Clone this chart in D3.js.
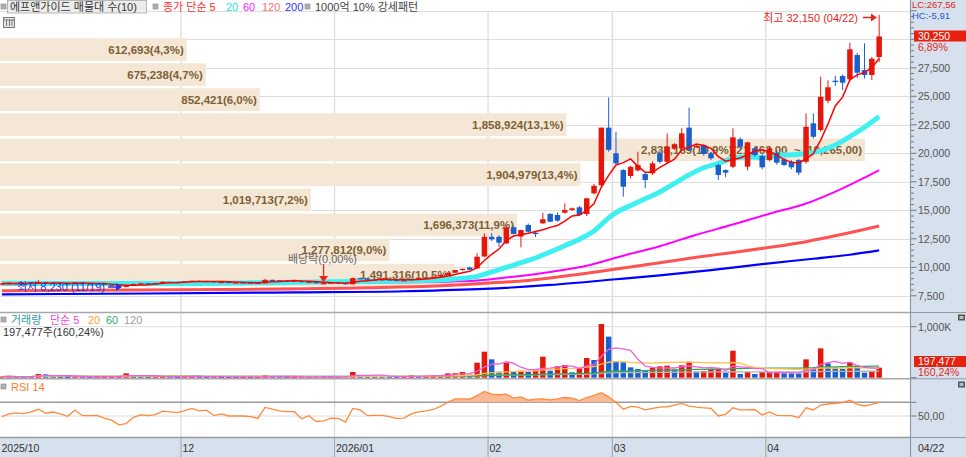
<!DOCTYPE html>
<html><head><meta charset="utf-8">
<script src="https://cdn.jsdelivr.net/npm/d3@7"></script>
<style>
body{margin:0;background:#fff;}
svg{display:block;font-family:"Liberation Sans","Noto Sans CJK KR",sans-serif;}
</style>
</head><body>
<svg id="c" width="966" height="457"></svg>
<script>
// ---------------- DATA ----------------
const dates = [
"2025-10-27","2025-10-28","2025-10-29","2025-10-30","2025-10-31",
"2025-11-03","2025-11-04","2025-11-05","2025-11-06","2025-11-07",
"2025-11-10","2025-11-11","2025-11-12","2025-11-13","2025-11-14",
"2025-11-17","2025-11-18","2025-11-19","2025-11-20","2025-11-21",
"2025-11-24","2025-11-25","2025-11-26","2025-11-27","2025-11-28",
"2025-12-01","2025-12-02","2025-12-03","2025-12-04","2025-12-05",
"2025-12-08","2025-12-09","2025-12-10","2025-12-11","2025-12-12",
"2025-12-15","2025-12-16","2025-12-17","2025-12-18","2025-12-19",
"2025-12-22","2025-12-23","2025-12-24","2025-12-26","2025-12-29","2025-12-30",
"2026-01-02","2026-01-05","2026-01-06","2026-01-07","2026-01-08","2026-01-09",
"2026-01-12","2026-01-13","2026-01-14","2026-01-15","2026-01-16",
"2026-01-19","2026-01-20","2026-01-21","2026-01-22","2026-01-23",
"2026-01-26","2026-01-27","2026-01-28","2026-01-29","2026-01-30",
"2026-02-02","2026-02-03","2026-02-04","2026-02-05","2026-02-06",
"2026-02-09","2026-02-10","2026-02-11","2026-02-12","2026-02-13",
"2026-02-19","2026-02-20",
"2026-02-23","2026-02-24","2026-02-25","2026-02-26","2026-02-27",
"2026-03-03","2026-03-04","2026-03-05","2026-03-06",
"2026-03-09","2026-03-10","2026-03-11","2026-03-12","2026-03-13",
"2026-03-16","2026-03-17","2026-03-18","2026-03-19","2026-03-20",
"2026-03-23","2026-03-24","2026-03-25","2026-03-26","2026-03-27",
"2026-03-30","2026-03-31",
"2026-04-01","2026-04-02","2026-04-03",
"2026-04-06","2026-04-07","2026-04-08","2026-04-09","2026-04-10",
"2026-04-13","2026-04-14","2026-04-15","2026-04-16","2026-04-17",
"2026-04-20","2026-04-21","2026-04-22"];

const opens = [8550,8580,8600,8560,8540,8640,8700,8600,8640,8580,
8520,8680,8580,8590,8570,8480,8400,8300,8380,8540,
8600,8580,8610,8720,8700,8680,8760,8820,8760,8790,
8680,8720,8670,8670,8660,8640,8590,8900,8860,8830,
8810,8820,8700,8740,8600,8610,8660,8640,8510,9050,
9000,8920,8930,8940,8900,8860,8870,8980,9050,9100,
9180,9320,9520,9760,9990,9900,10950,12680,12680,12100,
13510,12700,13710,13040,13860,14680,14590,14790,15030,15260,
14680,16490,17200,22250,20000,18530,18010,18500,18180,18250,
20000,19260,20400,20440,22250,20580,20730,20000,18970,18530,
18820,21230,18830,20440,19760,19410,20050,19470,19260,19410,
19260,22630,22040,24610,26370,26780,26490,28620,27300,26870,28450];
const highs = [8620,8650,8640,8600,8700,8900,8750,8680,8660,8600,
8700,8700,8620,8620,8580,8500,8420,8420,8560,8620,
8620,8640,8760,8740,8720,8780,8850,8840,8820,8800,
8740,8730,8700,8690,8680,8650,8980,8920,8880,8860,
8850,8830,8780,8750,8640,8680,8670,8650,9100,9080,
9020,8960,8960,8950,8910,8900,9000,9080,9120,9200,
9350,9560,9780,9900,10050,11230,12980,13000,12800,13600,
13600,13300,13850,13150,14790,14750,14800,15610,15250,15400,
16100,17300,22250,24900,21900,18600,18900,20140,18300,19300,
20200,21750,20900,22200,24000,20800,20800,20100,19100,18600,
22190,21400,21000,20600,19900,20600,20300,19600,19400,19500,
23500,23500,26720,26400,26800,26900,29700,28800,29650,28450,32150];
const lows = [8500,8540,8520,8500,8530,8620,8560,8580,8560,8500,
8510,8560,8540,8540,8460,8380,8280,8230,8370,8520,
8540,8560,8600,8660,8650,8670,8740,8740,8740,8660,
8660,8640,8640,8640,8620,8570,8580,8820,8800,8790,
8790,8680,8690,8580,8560,8600,8600,8480,8500,8950,
8900,8880,8900,8870,8840,8840,8860,8960,9020,9080,
9170,9300,9500,9700,9750,9880,10900,12300,11800,12050,
12900,11750,13050,12650,13800,13950,14000,14700,14950,14500,
14500,16400,17100,20150,19000,16190,17800,18400,16930,18100,
19100,19100,20300,20300,20200,20500,19800,19400,17660,17900,
18700,20400,18500,19700,18600,19300,19000,18900,18600,18100,
19100,21300,21900,24400,25900,25550,26300,26600,26550,26430,28000];
const closes = [8580,8600,8560,8540,8640,8700,8600,8640,8580,8520,
8680,8580,8590,8570,8480,8400,8300,8380,8540,8600,
8580,8610,8720,8700,8680,8760,8820,8760,8790,8680,
8720,8670,8670,8660,8640,8590,8900,8860,8830,8810,
8820,8700,8740,8600,8610,8660,8640,8510,9050,9000,
8920,8930,8940,8900,8860,8870,8980,9050,9100,9180,
9320,9520,9760,9860,9780,10930,12680,12460,12160,13510,
12920,13270,13120,12920,14210,14000,14090,15030,15170,14600,
16050,17150,22250,20300,19120,17070,18820,18970,17660,19120,
19260,20580,20800,21750,20300,20650,19940,19560,18100,18300,
21400,20580,20960,19850,18770,20440,19180,18970,18770,18300,
22330,21450,24960,25790,26250,26190,29120,27070,26870,28300,30250];
const volumes = [22000,25000,18000,16000,30000,72000,66000,20000,17000,15000,
26000,20000,16000,18000,22000,28000,34000,85000,40000,26000,
18000,20000,30000,20000,16000,24000,28000,18000,17000,20000,
16000,14000,13000,15000,14000,17000,45000,25000,18000,14000,
16000,20000,17000,22000,18000,15000,14000,20000,111000,55000,
32000,26000,22000,20000,18000,22000,45000,30000,34000,40000,
52000,85000,86000,111000,60000,294000,510000,360000,118000,294000,
118000,137000,118000,137000,412000,137000,223000,249000,105000,190000,
386000,347000,1053000,805000,327000,301000,203000,170000,137000,197000,
223000,236000,157000,243000,314000,118000,130000,175000,190000,99000,
529000,73000,112000,73000,110000,112000,115000,86000,84000,82000,
360000,184000,576000,282000,197000,171000,301000,236000,100000,123238,197477];
const rsi14 = [49,53,54.5,53.5,56,59.8,54,55.8,53,49.5,
58.8,50.5,50.5,51,47,44,37,39,48,51.5,
50.5,52,57,56,55,58,61,57.5,58.5,50.5,
53,50,50,50,49,46.5,62.5,60,57.5,56.3,
56.3,46,50.5,42,43,47,46.6,41,61,58.8,
50.5,51,51,49,46.6,47,53,56,57.5,59.5,
64,70,75,75,74.5,80,86,82,81,82,
76,78,73,74.5,75,73.5,75,77,76,72.5,
77,80,84,78,70,60,64,63,59,61,
63,63.5,66,68.5,64.5,63,62,61,50,52.5,
62,59,59,59.5,51.5,56,51,50.5,50.5,47.5,
62,58.8,66,67.5,68.5,69.5,73,67,64.6,67,70];

// long moving averages [date, value]
const ma20Pts = [["2025-10-27",8600],["2025-11-17",8580],["2025-12-01",8576],["2025-12-15",8640],["2025-12-30",8723],["2026-01-15",8808],["2026-01-22",8878],["2026-01-27",9033],["2026-01-29",9205],["2026-02-02",9608],["2026-02-04",9989],["2026-02-06",10406],["2026-02-10",10816],["2026-02-12",11340],["2026-02-19",11895],["2026-02-23",12469],["2026-02-25",13187],["2026-02-27",14333],["2026-03-03",14800],["2026-03-05",15415],["2026-03-09",16015],["2026-03-11",16613],["2026-03-13",17362],["2026-03-17",18108],["2026-03-19",18733],["2026-03-23",19106],["2026-03-25",19559],["2026-03-27",19666],["2026-03-31",19626],["2026-04-02",19812],["2026-04-06",19868],["2026-04-08",19980],["2026-04-10",20232],["2026-04-14",20731],["2026-04-16",21467],["2026-04-20",22281],["2026-04-22",23224]];
const ma60Pts = [["2025-10-27",8500],["2025-11-24",8520],["2025-12-22",8620],["2026-01-22",8721],["2026-01-29",8834],["2026-02-05",9180],["2026-02-12",9595],["2026-02-24",10138],["2026-03-04",11012],["2026-03-11",11847],["2026-03-18",12862],["2026-03-25",13747],["2026-04-01",14702],["2026-04-08",15593],["2026-04-15",16928],["2026-04-20",17861],["2026-04-22",18528]];
const ma120Pts = [["2025-10-27",7950],["2025-12-08",8050],["2026-01-08",8200],["2026-01-22",8380],["2026-01-30",8600],["2026-02-09",8850],["2026-02-23",9400],["2026-03-03",9850],["2026-03-11",10400],["2026-03-18",10880],["2026-03-25",11300],["2026-04-01",11750],["2026-04-08",12250],["2026-04-15",12900],["2026-04-22",13624]];
const ma200Pts = [["2025-10-27",7630],["2025-11-24",7700],["2025-12-22",7800],["2026-01-15",7900],["2026-01-30",8100],["2026-02-12",8450],["2026-03-03",8950],["2026-03-11",9300],["2026-03-20",9750],["2026-04-01",10350],["2026-04-09",10750],["2026-04-16",11100],["2026-04-22",11480]];

// price-volume profile (bottom band first)
const profileEdges = [8275,10473,12671,14869,17067,19265,21463,23661,25859,28057,30255];
const profileVolumes = [1491316,1277812,1696373,1019713,1904979,2838169,1858924,852421,675238,612693];

const priceTicks = [7500,10000,12500,15000,17500,20000,22500,25000,27500,30000,32500];
const monthTicks = [["2025-10-27","2025/10"],["2025-12-01","12"],["2026-01-02","2026/01"],["2026-02-02","02"],["2026-03-03","03"],["2026-04-01","04"]];

// ---------------- LAYOUT ----------------
const svg = d3.select("#c");
const PR = 910;
const UP = "#e3170c", DN = "#1b5fcc";
const x = d3.scaleBand().domain(dates).range([-1.75, 882.8]).paddingInner(0.25).paddingOuter(0.125);
const step = x.step(), bw = x.bandwidth();
const xc = d => x(d) + bw/2;
const cellLeft = d => x(d) - step*0.125;
const yP = d3.scaleLinear().domain([7500, 30000]).range([295.8, 39.3]);
const yV = d3.scaleLinear().domain([0, 1000000]).range([377.7, 326.7]);
const yR = d3.scaleLinear().domain([50, 70]).range([416, 402.3]);
const fmt = d3.format(",");
const dec = (v, n) => d3.format(",." + n + "f")(v).replace(".", "#").replace("#", ",");

svg.append("rect").attr("width", 966).attr("height", 457).attr("fill", "#fff");

// grid
const g = svg.append("g");
g.selectAll("line.h").data(priceTicks).join("line")
  .attr("x1", 0).attr("x2", PR).attr("y1", d => Math.round(yP(d)) + 0.5).attr("y2", d => Math.round(yP(d)) + 0.5)
  .attr("stroke", "#dedede").attr("stroke-width", 1.2);
g.selectAll("line.v").data(monthTicks.slice(1)).join("line")
  .attr("x1", d => cellLeft(d[0])).attr("x2", d => cellLeft(d[0]))
  .attr("y1", 11).attr("y2", 438).attr("stroke", "#dcdcdc").attr("stroke-width", 1.3);
g.append("line").attr("x1", 0).attr("x2", PR).attr("y1", yV(1000000)).attr("y2", yV(1000000)).attr("stroke", "#dedede");
g.append("line").attr("x1", 0).attr("x2", PR).attr("y1", yR(50)).attr("y2", yR(50)).attr("stroke", "#dcdcdc");
g.append("line").attr("x1", 0).attr("x2", PR).attr("y1", yR(70)).attr("y2", yR(70)).attr("stroke", "#9a9a9a").attr("stroke-width", 1.4);

// ---------------- PROFILE ----------------
const pmax = d3.max(profileVolumes), ptot = d3.sum(profileVolumes);
const xProf = d3.scaleLinear().domain([0, pmax]).range([0, 865]);
const prof = svg.append("g");
profileVolumes.forEach((v, k) => {
  const yTop = yP(profileEdges[k+1]) + 1.8, yBot = yP(profileEdges[k]) - 0.6;
  prof.append("rect").attr("x", 0).attr("y", yTop).attr("width", xProf(v)).attr("height", yBot - yTop).attr("fill", "#f4e7d5");
  let label = fmt(v) + "(" + (v/ptot*100).toFixed(1).replace(".", ",") + "%)";
  if (v === pmax) label += "(" + dec(profileEdges[k+1], 2) + "  ~  " + dec(profileEdges[k], 2) + ")";
  prof.append("text").attr("x", xProf(v) - 3).attr("y", (yTop + yBot)/2 + 4.2).attr("text-anchor", "end")
    .attr("font-size", 11.5).attr("font-weight", "bold").attr("fill", "#7d6036")
    .attr("xml:space", "preserve").style("white-space", "pre").text(label);
});

// ---------------- MOVING AVERAGES ----------------
const curve = d3.line().x(d => xc(d[0])).y(d => yP(d[1])).curve(d3.curveMonotoneX);
const mas = svg.append("g").attr("fill", "none").attr("stroke-linejoin", "round");
mas.append("path").attr("d", curve(ma200Pts)).attr("stroke", "#0000ff").attr("stroke-width", 2.2);
mas.append("path").attr("d", curve(ma120Pts)).attr("stroke", "#ff5252").attr("stroke-width", 3);
mas.append("path").attr("d", curve(ma60Pts)).attr("stroke", "#ff00ff").attr("stroke-width", 2);
mas.append("path").attr("d", curve(ma20Pts)).attr("stroke", "#3ff0f0").attr("stroke-width", 5);

// ---------------- CANDLES ----------------
const candles = svg.append("g");
dates.forEach((d, i) => {
  const o = opens[i], c = closes[i], col = c >= o ? UP : DN;
  candles.append("line").attr("x1", xc(d)).attr("x2", xc(d)).attr("y1", yP(highs[i])).attr("y2", yP(lows[i]))
    .attr("stroke", col).attr("stroke-width", 1);
  const y1 = yP(Math.max(o, c)), y2 = yP(Math.min(o, c));
  candles.append("rect").attr("x", x(d)).attr("width", bw).attr("y", y1).attr("height", Math.max(1.2, y2 - y1)).attr("fill", col);
});
const ma5 = closes.map((c, i) => d3.mean(closes.slice(Math.max(0, i - 4), i + 1)));
svg.append("path").attr("d", d3.line().x((v, i) => xc(dates[i])).y(v => yP(v))(ma5))
  .attr("fill", "none").attr("stroke", "#ff0000").attr("stroke-width", 1.5);

// ---------------- ANNOTATIONS ----------------
const ann = svg.append("g").attr("font-size", 11);
const iHi = highs.indexOf(d3.max(highs)), iLo = lows.indexOf(d3.min(lows));
const yHi = 17.5;
ann.append("text").attr("x", 858).attr("y", yHi + 4).attr("text-anchor", "end").attr("fill", "#e4261c")
  .text("최고 " + fmt(highs[iHi]) + " (" + dates[iHi].slice(5).replace("-", "/") + ")");
ann.append("line").attr("x1", 863).attr("x2", 872).attr("y1", yHi).attr("y2", yHi).attr("stroke", "#e4261c").attr("stroke-width", 1.5);
ann.append("path").attr("d", `M871,${yHi-4}L877,${yHi}L871,${yHi+4}Z`).attr("fill", "#e4261c");
const yLo = 287;
ann.append("text").attr("x", 17).attr("y", yLo + 4).attr("fill", "#2334d8")
  .text("최저 " + fmt(lows[iLo]) + " (" + dates[iLo].slice(5).replace("-", "/") + ")");
ann.append("line").attr("x1", 108).attr("x2", 117).attr("y1", yLo).attr("y2", yLo).attr("stroke", "#2334d8").attr("stroke-width", 1.5);
ann.append("path").attr("d", `M116,${yLo-4}L122,${yLo}L116,${yLo+4}Z`).attr("fill", "#2334d8");
const xd = xc("2025-12-29");
ann.append("text").attr("x", 288).attr("y", 263).attr("fill", "#666").text("배당락(0,00%)");
ann.append("line").attr("x1", xd).attr("x2", xd).attr("y1", 264).attr("y2", 277).attr("stroke", "#e4261c").attr("stroke-width", 1.3);
ann.append("path").attr("d", `M${xd-4.5},276L${xd+4.5},276L${xd},282Z`).attr("fill", "#e4261c");

// ---------------- VOLUME ----------------
const vol = svg.append("g");
dates.forEach((d, i) => {
  const col = i > 0 && volumes[i] < volumes[i-1] ? DN : UP;
  vol.append("rect").attr("x", x(d)).attr("width", bw).attr("y", yV(volumes[i]))
    .attr("height", Math.max(1, yV(0) - yV(volumes[i]))).attr("fill", col);
});
const vma = n => volumes.map((v, i) => d3.mean(volumes.slice(Math.max(0, i - n + 1), i + 1)));
const vline = d3.line().x((v, i) => xc(dates[i])).y(v => yV(v));
[[120, "#b4b4b4"], [60, "#2eaa55"], [20, "#ffc04a"], [5, "#f060e0"]].forEach(([n, c]) => {
  svg.append("path").attr("d", vline(vma(n))).attr("fill", "none").attr("stroke", c).attr("stroke-width", 1.3);
});

// ---------------- RSI ----------------
const rsiArea = d3.area().x((v, i) => xc(dates[i])).y0(yR(70)).y1(v => yR(Math.max(v, 70)));
svg.append("path").attr("d", rsiArea(rsi14)).attr("fill", "#f8b995");
svg.append("path").attr("d", d3.line().x((v, i) => xc(dates[i])).y(v => yR(v))(rsi14))
  .attr("fill", "none").attr("stroke", "#ff8a3d").attr("stroke-width", 1.3);

// ---------------- PANEL FRAMES ----------------
const fr = svg.append("g");
fr.append("line").attr("x1", 0).attr("x2", 966).attr("y1", 312.5).attr("y2", 312.5).attr("stroke", "#a8a8a8").attr("stroke-width", 1.6);
fr.append("line").attr("x1", 0).attr("x2", 966).attr("y1", 378.8).attr("y2", 378.8).attr("stroke", "#a8a8a8").attr("stroke-width", 1.6);
fr.append("rect").attr("x", 0).attr("y", 438).attr("width", 966).attr("height", 19).attr("fill", "#d7e0ed");
fr.append("line").attr("x1", 0).attr("x2", 966).attr("y1", 437.5).attr("y2", 437.5).attr("stroke", "#9c9c9c").attr("stroke-width", 1.5);
fr.append("rect").attr("x", 910).attr("y", 0).attr("width", 56).attr("height", 457).attr("fill", "#d7e0ed");
fr.append("line").attr("x1", 910.5).attr("x2", 910.5).attr("y1", 0).attr("y2", 457).attr("stroke", "#8f9aa8").attr("stroke-width", 1.2);
[312.5, 378.8, 437.5].forEach(y => fr.append("line").attr("x1", 910).attr("x2", 966).attr("y1", y).attr("y2", y).attr("stroke", "#8f9aa8"));

// month labels
const ax = svg.append("g").attr("font-size", 10.5).attr("fill", "#333");
monthTicks.forEach(([d, lab], k) => {
  const xx = k === 0 ? 0 : cellLeft(d);
  if (k > 0) ax.append("line").attr("x1", xx).attr("x2", xx).attr("y1", 438).attr("y2", 457).attr("stroke", "#9aa4b0");
  ax.append("text").attr("x", xx + 1.5).attr("y", 451.5).text(lab);
});
ax.append("text").attr("x", 918).attr("y", 451.5).text(dates[dates.length-1].slice(5).replace("-", "/"));

// right price axis
const ra = svg.append("g").attr("font-size", 10.5).attr("fill", "#555");
d3.range(7500, 33000, 500).forEach(v => {
  const major = v % 2500 === 0;
  ra.append("line").attr("x1", 911).attr("x2", major ? 916.5 : 914).attr("y1", yP(v)).attr("y2", yP(v)).attr("stroke", "#6d7785");
});
priceTicks.filter(v => v < 30000).forEach(v => ra.append("text").attr("x", 918).attr("y", yP(v) + 3.8).text(fmt(v)));
ra.append("text").attr("x", 912).attr("y", 8).attr("font-size", 9.5).attr("fill", "#e02a20").text("LC:267,56");
ra.append("text").attr("x", 912).attr("y", 18.5).attr("font-size", 9.5).attr("fill", "#2a56d8").text("HC:-5,91");
const last = closes[closes.length-1], prev = closes[closes.length-2];
ra.append("rect").attr("x", 914).attr("y", 30.5).attr("width", 52).attr("height", 11).attr("fill", "#e8210f");
ra.append("text").attr("x", 918).attr("y", 39.8).attr("fill", "#fff").text(fmt(last));
ra.append("text").attr("x", 918).attr("y", 50.5).attr("fill", "#e02a20").text(((last/prev - 1)*100).toFixed(2).replace(".", ",") + "%");

// right volume axis
const vLast = volumes[volumes.length-1], vPrev = volumes[volumes.length-2];
[0, 1000000].forEach(v => ra.append("line").attr("x1", 911).attr("x2", 916.5).attr("y1", yV(v)).attr("y2", yV(v)).attr("stroke", "#6d7785"));
ra.append("text").attr("x", 918).attr("y", yV(1000000) + 3.8).text("1,000K");
ra.append("rect").attr("x", 914).attr("y", 356).attr("width", 52).attr("height", 11).attr("fill", "#e8210f");
ra.append("text").attr("x", 918).attr("y", 365.2).attr("fill", "#fff").text(fmt(vLast));
ra.append("text").attr("x", 918).attr("y", 375.5).attr("fill", "#e02a20").text((vLast/vPrev*100).toFixed(2).replace(".", ",") + "%");
[50, 70].forEach(v => ra.append("line").attr("x1", 911).attr("x2", 916.5).attr("y1", yR(v)).attr("y2", yR(v)).attr("stroke", "#6d7785"));
ra.append("text").attr("x", 918).attr("y", yR(50) + 3.8).text("50,00");
[314.5, 381.5].forEach(y => {
  ra.append("rect").attr("x", 958).attr("y", y).attr("width", 7).attr("height", 6).attr("fill", "#555");
  ra.append("rect").attr("x", 959.5).attr("y", y + 1.5).attr("width", 4).attr("height", 3).attr("fill", "#bbb");
});

// ---------------- LEGENDS ----------------
const lg = svg.append("g").attr("font-size", 11);
const bullet = (xx, yy) => lg.append("rect").attr("x", xx).attr("y", yy).attr("width", 5).attr("height", 5)
  .attr("fill", "#b0b0b0").attr("stroke", "#888").attr("stroke-width", 0.6);
bullet(1, 4);
lg.append("rect").attr("x", 7.5).attr("y", 0.5).attr("width", 139).attr("height", 12.5).attr("fill", "#ececec").attr("stroke", "#b8b8b8");
lg.append("text").attr("x", 10).attr("y", 10.8).attr("fill", "#333").text("에프앤가이드 매물대 수(10)");
bullet(153, 4);
lg.append("text").attr("x", 163).attr("y", 10.8).attr("fill", "#ff3030").text("종가 단순 5");
lg.append("text").attr("x", 226).attr("y", 10.8).attr("fill", "#2ee0e0").text("20");
lg.append("text").attr("x", 243).attr("y", 10.8).attr("fill", "#ff22ff").text("60");
lg.append("text").attr("x", 262).attr("y", 10.8).attr("fill", "#ff7070").text("120");
lg.append("text").attr("x", 285).attr("y", 10.8).attr("fill", "#3030ff").text("200");
bullet(305, 4);
lg.append("text").attr("x", 315).attr("y", 10.8).attr("fill", "#444").text("1000억 10% 강세패턴");
lg.append("rect").attr("x", 3.5).attr("y", 17.5).attr("width", 11).attr("height", 10).attr("fill", "#e6e6e6").attr("stroke", "#777");
[6.5, 9.5, 12].forEach(xx => lg.append("line").attr("x1", xx).attr("x2", xx).attr("y1", 19.5).attr("y2", 26).attr("stroke", "#777"));
lg.append("line").attr("x1", 4).attr("x2", 14).attr("y1", 20).attr("y2", 20).attr("stroke", "#777");

bullet(1, 317);
lg.append("text").attr("x", 11).attr("y", 324).attr("fill", "#2e9d9d").text("거래량");
lg.append("text").attr("x", 50).attr("y", 324).attr("fill", "#f048d8").text("단순 5");
lg.append("text").attr("x", 88).attr("y", 324).attr("fill", "#f7a531").text("20");
lg.append("text").attr("x", 106).attr("y", 324).attr("fill", "#39a86b").text("60");
lg.append("text").attr("x", 124).attr("y", 324).attr("fill", "#a0a0a0").text("120");
lg.append("text").attr("x", 3).attr("y", 336).attr("fill", "#333")
  .text(fmt(vLast) + "주(" + (vLast/vPrev*100).toFixed(2).replace(".", ",") + "%)");
bullet(1, 384);
lg.append("text").attr("x", 11).attr("y", 391).attr("fill", "#ff7a2a").text("RSI 14");
</script>
</body></html>
